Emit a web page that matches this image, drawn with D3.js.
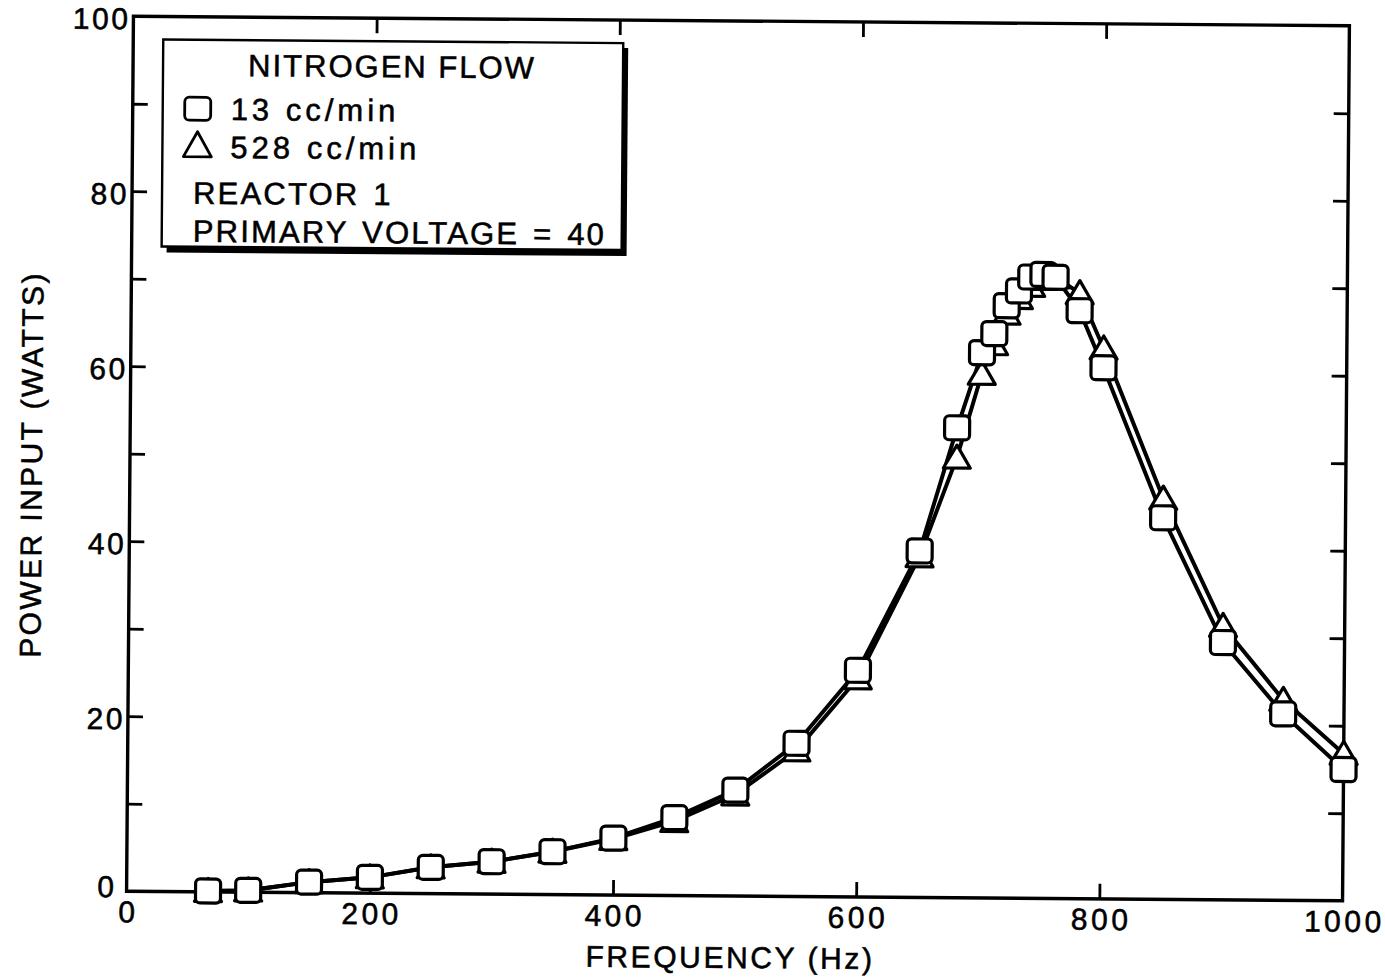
<!DOCTYPE html>
<html>
<head>
<meta charset="utf-8">
<script src="https://cdn.jsdelivr.net/npm/d3@7"></script>
<style>
  html, body { margin: 0; padding: 0; background: #fff; }
  svg { display: block; }
  text { font-family: "Liberation Sans", Arial, Helvetica, sans-serif; fill: #000; stroke: #000; stroke-width: 0.55px; }
</style>
</head>
<body>
<svg id="chart" width="1385" height="977"></svg>
<script>
// Frequency sweep (Hz) shared by both nitrogen flow runs
const frequency = [67, 100, 150, 200, 250, 300, 350, 400, 450, 500, 550, 600, 650,
                   680, 700, 710, 720, 730, 740, 750, 760, 780, 800, 850, 900, 950, 1000];
// Power input (W), nitrogen flow 13 cc/min (squares)
const power13 = [0.1, 0.2, 1.2, 1.8, 3.0, 3.7, 4.9, 6.5, 8.9, 12.1, 17.5, 25.9, 39.6,
                 53.7, 62.3, 64.5, 67.7, 69.4, 71.0, 71.3, 71.0, 67.2, 60.7, 43.6, 29.4, 21.3, 15.0];
// Power input (W), nitrogen flow 528 cc/min (triangles)
const power528 = [0.1, 0.2, 1.2, 1.8, 3.0, 3.7, 4.9, 6.4, 8.5, 11.6, 16.7, 25.0, 39.0,
                  50.3, 59.9, 63.3, 66.8, 68.6, 70.0, 70.8, 71.0, 69.2, 62.9, 45.8, 31.3, 22.9, 16.8];

const xTickLabels = [0, 200, 400, 600, 800, 1000];
const xInnerTicks = [200, 400, 600, 800];
const yTickLabels = [0, 20, 40, 60, 80, 100];
const yMinorTicks = [10, 20, 30, 40, 50, 60, 70, 80, 90];

const legendTitle = "NITROGEN FLOW";
const seriesNames = ["13 cc/min", "528 cc/min"];
const legendNotes = ["REACTOR 1", "PRIMARY VOLTAGE = 40"];
const xTitle = "FREQUENCY (Hz)";
const yTitle = "POWER INPUT (WATTS)";

const L = 130, R = 1346, T = 21, B = 896;
const svg = d3.select("#chart");
svg.append("rect").attr("width", 1385).attr("height", 977).attr("fill", "#fff");

// the printed sheet sits slightly askew
const g = svg.append("g").attr("transform", "rotate(0.45, 739, 457)");

const x = d3.scaleLinear().domain([0, 1000]).range([L, R]);
const y = d3.scaleLinear().domain([0, 100]).range([B, T]);

// frame
g.append("rect").attr("x", L).attr("y", T).attr("width", R - L).attr("height", B - T)
  .attr("fill", "none").attr("stroke", "#000").attr("stroke-width", 3.4);

// inward ticks via d3 axes
const tickLen = 15;
const axB = g.append("g").attr("transform", `translate(0,${B})`)
  .call(d3.axisTop(x).tickValues(xInnerTicks).tickSize(tickLen).tickFormat(""));
const axT = g.append("g").attr("transform", `translate(0,${T})`)
  .call(d3.axisBottom(x).tickValues(xInnerTicks).tickSize(tickLen).tickFormat(""));
const axL = g.append("g").attr("transform", `translate(${L},0)`)
  .call(d3.axisRight(y).tickValues(yMinorTicks).tickSize(tickLen).tickFormat(""));
const axR = g.append("g").attr("transform", `translate(${R},0)`)
  .call(d3.axisLeft(y).tickValues(yMinorTicks).tickSize(tickLen).tickFormat(""));
[axB, axT, axL, axR].forEach(a => {
  a.select(".domain").remove();
  a.selectAll(".tick line").attr("stroke", "#000").attr("stroke-width", 2.8);
});

// tick labels
g.append("g").selectAll("text").data(xTickLabels).join("text")
  .attr("x", d => x(d) + 2).attr("y", B + 31)
  .attr("text-anchor", "middle")
  .attr("font-size", 30).attr("letter-spacing", 3.5)
  .text(d => d);

// the zero label sits up and to the left, clear of the x-axis zero
g.append("g").selectAll("text").data(yTickLabels).join("text")
  .attr("x", d => d === 0 ? L - 10 : L - 3)
  .attr("y", d => d === 0 ? y(d) + 6 : y(d) + 13)
  .attr("text-anchor", "end")
  .attr("font-size", 30).attr("letter-spacing", 2.5)
  .text(d => d);

// axis titles
g.append("text").attr("x", 734).attr("y", 968).attr("text-anchor", "middle")
  .attr("font-size", 30).attr("letter-spacing", 2.6).text(xTitle);
g.append("text").attr("transform", "translate(42,470) rotate(-90)")
  .attr("text-anchor", "middle")
  .attr("font-size", 30).attr("letter-spacing", 2.4).text(yTitle);

// series
const pts = vals => frequency.map((f, i) => [f, vals[i]]);
const line = d3.line().x(d => x(d[0])).y(d => y(d[1]));

const seriesA = pts(power13), seriesB = pts(power528);

[seriesB, seriesA].forEach(s => {
  g.append("path").datum(s).attr("d", line)
    .attr("fill", "none").attr("stroke", "#000").attr("stroke-width", 4)
    .attr("stroke-linejoin", "round");
});

const triPath = "M0,-12.5 L13.5,10.5 L-13.5,10.5 Z";
function drawTri(sel) {
  sel.attr("d", triPath).attr("fill", "#fff").attr("stroke", "#000")
    .attr("stroke-width", 3.2).attr("stroke-linejoin", "round");
}
function drawSq(sel) {
  sel.attr("x", -12.5).attr("y", -12).attr("width", 25).attr("height", 24)
    .attr("rx", 4.5).attr("fill", "#fff").attr("stroke", "#000").attr("stroke-width", 3.2);
}

g.append("g").selectAll("path").data(seriesB).join("path")
  .attr("transform", d => `translate(${x(d[0])},${y(d[1])})`)
  .call(drawTri);

g.append("g").selectAll("rect").data(seriesA).join("rect")
  .attr("transform", d => `translate(${x(d[0])},${y(d[1])})`)
  .call(drawSq);

// legend box with drop shadow
const lg = g.append("g");
lg.append("rect").attr("x", 165).attr("y", 49).attr("width", 460).attr("height", 208).attr("fill", "#000");
lg.append("rect").attr("x", 160).attr("y", 44).attr("width", 460).attr("height", 207)
  .attr("fill", "#fff").attr("stroke", "#000").attr("stroke-width", 2.4);

lg.append("text").attr("x", 389).attr("y", 80).attr("text-anchor", "middle")
  .attr("font-size", 31).attr("letter-spacing", 2).text(legendTitle);

lg.append("rect").attr("transform", "translate(195,113)").call(drawSq)
  .attr("x", -13).attr("width", 26).attr("y", -11.5).attr("height", 23).attr("stroke-width", 2.8);
lg.append("path").attr("transform", "translate(195,149)").call(drawTri)
  .attr("d", "M0,-13 L14,12 L-14,12 Z").attr("stroke-width", 2.8);

lg.selectAll("text.series").data(seriesNames).join("text").attr("class", "series")
  .attr("x", 228).attr("y", (d, i) => 124 + i * 38)
  .attr("font-size", 31).attr("letter-spacing", 4).text(d => d);

lg.selectAll("text.note").data(legendNotes).join("text").attr("class", "note")
  .attr("x", 191).attr("y", (d, i) => 208 + i * 38)
  .attr("font-size", 31).attr("letter-spacing", 2.2).attr("word-spacing", 3).text(d => d);
</script>
</body>
</html>
